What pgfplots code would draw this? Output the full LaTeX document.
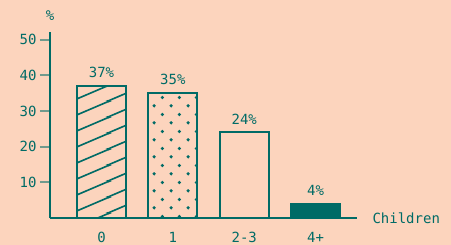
\documentclass[border=0pt]{standalone}
\usepackage{pgfplots}
\pgfplotsset{compat=1.18}
\usepackage{fontspec}
\setmainfont{DejaVu Sans Mono}
\usetikzlibrary{patterns.meta}
\definecolor{bgc}{HTML}{FCD4BD}
\definecolor{mainc}{HTML}{006B66}
\colorlet{tickc}{mainc!55!bgc}
\pgfdeclarepattern{
  name=shallowhatch, type=uncolored,
  bottom left={\pgfpoint{0bp}{0bp}}, top right={\pgfpoint{36bp}{16bp}},
  tile size={\pgfpoint{36bp}{16bp}},
  code={
    \pgfsetlinewidth{1.7bp}
    \pgfpathmoveto{\pgfpoint{-4bp}{-17.78bp}}\pgfpathlineto{\pgfpoint{40bp}{1.78bp}}
    \pgfpathmoveto{\pgfpoint{-4bp}{-1.78bp}}\pgfpathlineto{\pgfpoint{40bp}{17.78bp}}
    \pgfpathmoveto{\pgfpoint{-4bp}{14.22bp}}\pgfpathlineto{\pgfpoint{40bp}{33.78bp}}
    \pgfusepath{stroke}
  }}
\pgfdeclarepattern{
  name=stagdots, type=uncolored,
  bottom left={\pgfpoint{0bp}{0bp}}, top right={\pgfpoint{16.7bp}{16.8bp}},
  tile size={\pgfpoint{16.7bp}{16.8bp}},
  code={
    \pgfpathcircle{\pgfpoint{4.2bp}{4.2bp}}{1.8bp}
    \pgfpathcircle{\pgfpoint{12.55bp}{12.6bp}}{1.8bp}
    \pgfusepath{fill}
  }}
\newcommand{\fs}{\fontsize{14bp}{16bp}\selectfont}
\begin{document}
\begin{tikzpicture}
\fill[bgc, use as bounding box] (0,0) rectangle (451bp,245bp);
\begin{axis}[
  at={(50bp,27bp)}, anchor=south west,
  scale only axis, width=307bp, height=186bp,
  xmin=-0.722, xmax=3.58, ymin=0, ymax=52.2,
  axis x line=bottom, axis y line=left,
  axis line style={-, line width=2bp, draw=mainc},
  xtick={0,1,2,3}, xticklabels={0,1,2-3,4+},
  ytick={10,20,30,40,50},
  tick align=outside,
  major tick length=10bp,
  major x tick style={draw=none},
  major y tick style={draw=tickc, line width=2bp},
  /pgf/number format/assume math mode=true,
  tick label style={font=\fs, text=mainc},
  xticklabel style={yshift=-1bp},
  clip=false,
  every node near coord/.append style={font=\fs, text=mainc, yshift=4bp},
  nodes near coords={\pgfmathprintnumber[assume math mode=true]{\pgfplotspointmeta}\%},
]
\addplot[ybar, bar width=49bp, bar shift=0pt, draw=mainc, line width=2bp, pattern={shallowhatch}, pattern color=mainc] coordinates {(0,37)};
\addplot[ybar, bar width=49bp, bar shift=0pt, draw=mainc, line width=2bp, pattern={stagdots}, pattern color=mainc] coordinates {(1,35)};
\addplot[ybar, bar width=49bp, bar shift=0pt, draw=mainc, line width=2bp, fill=bgc] coordinates {(2,24)};
\addplot[ybar, bar width=49bp, bar shift=0pt, draw=mainc, line width=2bp, fill=mainc] coordinates {(3,4)};
\node[font=\fs, text=mainc] at (rel axis cs:0,1) [yshift=16bp] {\%};
\node[font=\fs, text=mainc, anchor=west] at (rel axis cs:1,0) [xshift=12bp] {Children};
\end{axis}
\end{tikzpicture}
\end{document}
